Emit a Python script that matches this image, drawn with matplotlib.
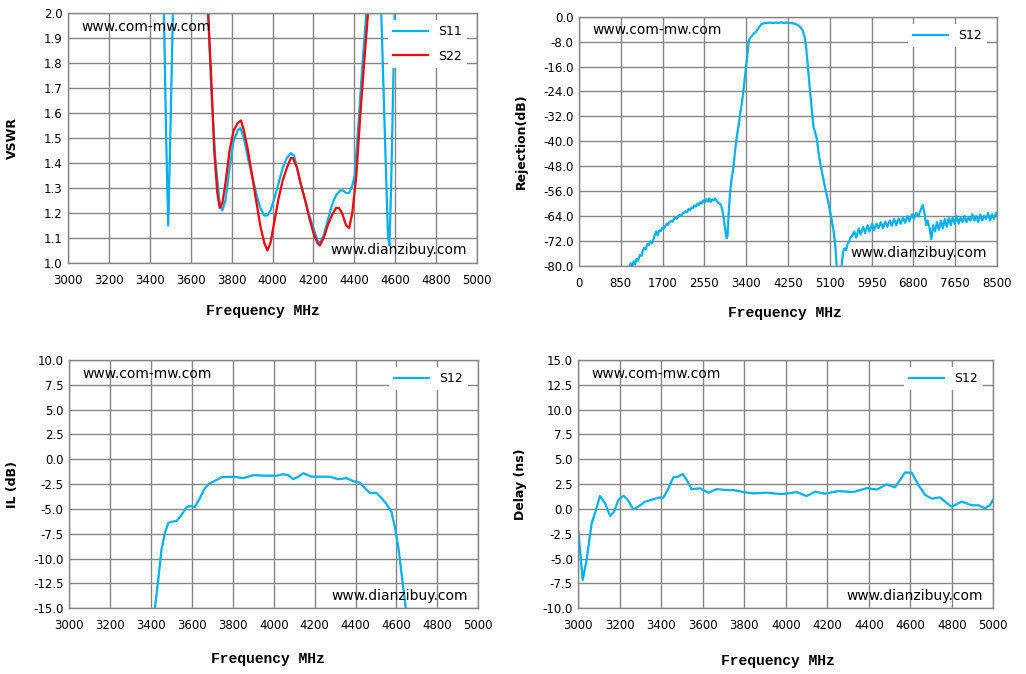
import numpy as np
import matplotlib
matplotlib.use('Agg')
import matplotlib.pyplot as plt
from matplotlib.ticker import FormatStrFormatter

plt.rcParams['font.family'] = 'DejaVu Sans'

BLUE = '#00B0F0'
RED = '#FF0000'
GRID = '#868686'

# ---- VSWR (S11 / S22) ----
s11_f = [3440, 3469, 3480, 3490, 3500, 3513, 3540, 3660, 3680, 3690, 3700, 3720, 3740, 3755,
         3770, 3790, 3810, 3830, 3843, 3860, 3880, 3900, 3920, 3940, 3960, 3975, 3990,
         4010, 4030, 4050, 4070, 4090, 4105, 4120, 4140, 4160, 4180, 4200, 4220, 4232,
         4250, 4270, 4290, 4310, 4330, 4345, 4360, 4375, 4390, 4402, 4420, 4440, 4459,
         4480, 4510, 4532, 4550, 4565, 4572, 4580, 4590, 4597, 4620]
s11_v = [3.0, 2.0, 1.5, 1.15, 1.5, 2.0, 3.0, 3.0, 2.2, 1.9, 1.7, 1.42, 1.25, 1.21,
         1.25, 1.38, 1.49, 1.53, 1.54, 1.50, 1.42, 1.35, 1.28, 1.22, 1.19, 1.19, 1.21,
         1.26, 1.32, 1.38, 1.42, 1.44, 1.43, 1.38, 1.31, 1.25, 1.19, 1.14, 1.09, 1.08,
         1.11, 1.17, 1.23, 1.27, 1.29, 1.29, 1.28, 1.28, 1.31, 1.35, 1.55, 1.80, 2.0,
         2.6, 2.6, 2.0, 1.5, 1.1, 1.07, 1.3, 1.7, 2.0, 3.0]
s22_f = [3650, 3685, 3700, 3715, 3730, 3742, 3755, 3770, 3790, 3810, 3830, 3846, 3860,
         3880, 3900, 3920, 3940, 3960, 3975, 3990, 4010, 4030, 4050, 4070, 4090, 4100,
         4120, 4140, 4160, 4180, 4200, 4220, 4232, 4250, 4270, 4290, 4310, 4325, 4340,
         4360, 4375, 4390, 4410, 4430, 4450, 4467, 4490]
s22_v = [3.0, 2.0, 1.75, 1.45, 1.28, 1.22, 1.24, 1.32, 1.45, 1.53, 1.56, 1.57, 1.53,
         1.45, 1.35, 1.25, 1.15, 1.08, 1.05, 1.08, 1.17, 1.26, 1.33, 1.38, 1.42, 1.42,
         1.38, 1.31, 1.25, 1.18, 1.12, 1.08, 1.07, 1.10, 1.15, 1.19, 1.22, 1.22, 1.20,
         1.15, 1.14, 1.20, 1.35, 1.60, 1.82, 2.0, 3.0]

# ---- Rejection (S12, wide band) ----
rej_f = [1000, 1050, 1080, 1110, 1140, 1170, 1200, 1240, 1270, 1300, 1330, 1360, 1390,
         1420, 1450, 1480, 1510, 1540, 1570, 1600, 1630, 1660, 1690, 1720, 1750, 1780,
         1810, 1840, 1870, 1900, 1930, 1960, 1990, 2020, 2050, 2080, 2110, 2140, 2170,
         2200, 2230, 2260, 2290, 2320, 2350, 2380, 2410, 2440, 2470, 2500, 2530, 2560,
         2590, 2620, 2650, 2680, 2710, 2740, 2770, 2800, 2830, 2860, 2890, 2920, 2950,
         2980, 3005, 3020, 3045, 3070, 3100, 3140, 3175, 3210, 3245, 3280, 3315, 3350,
         3380, 3420, 3450, 3470, 3510, 3550, 3590, 3630, 3670, 3710, 3760, 3820, 3880,
         3940, 4000, 4060, 4120, 4160, 4220, 4280, 4340, 4400, 4450, 4500, 4550, 4590,
         4620, 4650, 4690, 4730, 4770, 4800, 4840, 4870, 4905, 4950, 5000, 5050, 5100,
         5140, 5175, 5210, 5240, 5290, 5340, 5370, 5400, 5430, 5460, 5490, 5520, 5550,
         5600, 5640, 5690, 5730, 5780, 5820, 5870, 5910, 5960, 6000, 6050, 6090, 6140,
         6180, 6230, 6270, 6320, 6360, 6410, 6450, 6500, 6540, 6590, 6630, 6680, 6720,
         6770, 6810, 6860, 6900, 6950, 6990, 7030, 7060, 7090, 7130, 7165, 7200, 7240,
         7280, 7320, 7360, 7400, 7440, 7480, 7520, 7560, 7600, 7640, 7680, 7720, 7760,
         7800, 7840, 7880, 7920, 7960, 8000, 8040, 8080, 8120, 8160, 8200, 8240, 8280,
         8320, 8360, 8400, 8440, 8480, 8500]
rej_db = [-81.5, -79.2, -80.5, -78.6, -79.6, -77.8, -78.4, -76.5, -76.9, -75.0, -74.2, -74.8, -73.0,
          -73.4, -72.2, -72.8, -71.8, -70.2, -69.0, -70.3, -68.7, -68.9, -67.9, -68.2, -67.4, -66.5,
          -66.9, -66.0, -65.6, -65.9, -65.0, -64.6, -64.9, -64.0, -63.7, -63.9, -63.2, -62.9, -62.5,
          -62.8, -61.8, -62.2, -61.3, -61.5, -60.6, -61.0, -60.0, -60.6, -59.5, -59.9, -59.0, -59.6,
          -58.6, -59.4, -58.4, -59.5, -58.7, -59.0, -58.4, -59.2, -59.8, -60.0, -60.6, -62.5, -65.5,
          -69.0, -71.2, -70.5, -63.0, -57.0, -52.5, -48.5, -43.0, -38.5, -35.0, -31.0, -27.5, -23.0,
          -18.5, -13.0, -8.5, -7.0, -6.3, -5.5, -5.0, -4.2, -3.2, -2.4, -2.1, -2.0, -1.9,
          -2.0, -1.9, -2.0, -1.8, -2.0, -1.9, -2.0, -2.1, -2.3, -2.7, -3.3, -4.5, -6.5,
          -10.0, -15.0, -22.5, -29.0, -35.5, -37.0, -39.5, -43.5, -47.0, -50.5, -54.5, -58.0, -62.0,
          -65.5, -68.5, -73.0, -80.0, -82.5, -80.5, -75.5, -74.5, -75.0, -73.0, -72.5, -71.0, -70.5,
          -69.0, -71.0, -68.0, -70.0, -67.5, -69.5, -67.0, -69.0, -66.5, -68.5, -66.5, -68.0, -66.0,
          -68.0, -65.8, -67.5, -65.5, -67.2, -65.0, -67.0, -64.8, -66.5, -64.5, -66.2, -64.0, -65.8,
          -63.5, -65.0, -63.0, -64.2, -62.0, -60.5, -63.5, -67.0, -65.5, -68.0, -71.5, -67.0, -69.0,
          -66.0, -68.5, -65.5, -68.0, -65.0, -67.5, -64.5, -67.0, -64.5, -66.5, -64.0, -66.5, -64.5,
          -66.0, -64.0, -66.0, -64.5, -65.5, -63.5, -65.5, -64.0, -66.0, -63.5, -65.5, -64.0, -65.0,
          -63.0, -65.5, -63.5, -65.0, -63.0, -63.5]

# ---- Insertion loss (S12) ----
il_f = [3410, 3419, 3435, 3451, 3468, 3484, 3500, 3525, 3549, 3574, 3593, 3614, 3639, 3663,
        3688, 3720, 3745, 3802, 3851, 3900, 3965, 4014, 4046, 4071, 4095, 4120, 4144, 4185,
        4226, 4275, 4315, 4356, 4389, 4421, 4446, 4470, 4503, 4527, 4552, 4576, 4592, 4609,
        4625, 4646, 4655]
il_db = [-18.0, -15.0, -12.15, -9.1, -7.4, -6.4, -6.3, -6.2, -5.6, -4.8, -4.7, -4.8, -3.9, -2.9,
         -2.4, -2.1, -1.8, -1.75, -1.9, -1.6, -1.65, -1.65, -1.5, -1.6, -2.0, -1.75, -1.4, -1.75,
         -1.75, -1.75, -2.0, -1.9, -2.2, -2.35, -2.9, -3.4, -3.4, -3.9, -4.5, -5.3, -6.8, -8.8,
         -11.5, -15.0, -17.0]

# ---- Group delay (S12) ----
dl_f = [3000, 3021, 3040, 3064, 3085, 3104, 3129, 3153, 3172, 3193, 3217, 3236, 3265, 3289,
        3321, 3361, 3386, 3410, 3434, 3458, 3482, 3503, 3522, 3546, 3586, 3627, 3667, 3715,
        3747, 3795, 3843, 3908, 3972, 4012, 4052, 4100, 4141, 4189, 4253, 4325, 4390, 4438,
        4486, 4526, 4574, 4606, 4639, 4671, 4703, 4743, 4767, 4799, 4847, 4896, 4928, 4960,
        4984, 5000]
dl_ns = [-2.3, -7.15, -5.1, -1.45, -0.1, 1.3, 0.57, -0.7, -0.27, 0.9, 1.34, 0.97, -0.03, 0.23,
         0.74, 0.97, 1.14, 1.14, 2.08, 3.19, 3.26, 3.52, 2.92, 1.98, 2.08, 1.64, 2.0, 1.9,
         1.9, 1.7, 1.57, 1.64, 1.5, 1.57, 1.7, 1.3, 1.74, 1.54, 1.8, 1.7, 2.1, 1.95,
         2.48, 2.18, 3.66, 3.66, 2.42, 1.41, 1.04, 1.17, 0.74, 0.23, 0.74, 0.37, 0.37, 0.07,
         0.4, 1.0]


def style_axes(ax, xlim, xstep, ylim, ystep, yfmt, ylabel, xlab_xy, ylab_x):
    ax.set_xlim(*xlim)
    ax.set_ylim(*ylim)
    ax.set_xticks(np.arange(xlim[0], xlim[1] + 1, xstep))
    ax.set_yticks(np.arange(ylim[0], ylim[1] + ystep / 2, ystep))
    ax.yaxis.set_major_formatter(FormatStrFormatter(yfmt))
    ax.grid(True, color=GRID, linewidth=1)
    ax.set_axisbelow(True)
    for sp in ax.spines.values():
        sp.set_color(GRID)
        sp.set_linewidth(1)
    ax.tick_params(axis='x', length=0, pad=8, labelsize=8.5, colors='black')
    ax.tick_params(axis='y', length=0, pad=4, labelsize=8.5, colors='black')
    ax.set_xlabel('Frequency MHz', fontfamily='Liberation Mono', fontweight='bold', fontsize=10.5)
    ax.xaxis.set_label_coords(*xlab_xy)
    ax.xaxis.label.set_va('center')
    ax.set_ylabel(ylabel, fontweight='bold', fontsize=9)
    ax.yaxis.set_label_coords(ylab_x, 0.5)
    ax.yaxis.label.set_va('center')
    ax.text(0.032, 0.945, 'www.com-mw.com', transform=ax.transAxes, fontsize=10,
            ha='left', va='center')
    ax.text(0.975, 0.05, 'www.dianzibuy.com', transform=ax.transAxes, fontsize=10,
            ha='right', va='center')
    leg = ax.legend(loc='upper right', bbox_to_anchor=(0.975, 0.97), frameon=True,
                    fancybox=False, edgecolor='none', facecolor='white', framealpha=1,
                    fontsize=9, handlelength=2.8, borderaxespad=0, labelspacing=0.9)
    return leg


fig = plt.figure(figsize=(10.26, 6.74), dpi=100)
fig.patch.set_facecolor('white')

ax1 = fig.add_axes([0.0663, 0.6098, 0.3986, 0.3710])
ax1.plot(s11_f, s11_v, color=BLUE, lw=1.6, label='S11')
ax1.plot(s22_f, s22_v, color=RED, lw=1.6, label='S22')
style_axes(ax1, (3000, 5000), 200, (1.0, 2.0), 0.1, '%.1f', 'VSWR', (0.477, -0.192), -0.137)

ax2 = fig.add_axes([0.5643, 0.6058, 0.4074, 0.3694])
ax2.plot(rej_f, rej_db, color=BLUE, lw=1.6, label='S12')
style_axes(ax2, (0, 8500), 850, (-80, 0), 8, '%.1f', 'Rejection(dB)', (0.493, -0.191), -0.137)

ax3 = fig.add_axes([0.0675, 0.0975, 0.3986, 0.3684])
ax3.plot(il_f, il_db, color=BLUE, lw=1.6, label='S12')
style_axes(ax3, (3000, 5000), 200, (-15, 10), 2.5, '%.1f', 'IL (dB)', (0.485, -0.205), -0.14)

ax4 = fig.add_axes([0.5637, 0.0975, 0.4045, 0.3684])
ax4.plot(dl_f, dl_ns, color=BLUE, lw=1.6, label='S12')
style_axes(ax4, (3000, 5000), 200, (-10, 15), 2.5, '%.1f', 'Delay (ns)', (0.48, -0.211), -0.14)

fig.savefig('out.png', dpi=100, facecolor='white')
